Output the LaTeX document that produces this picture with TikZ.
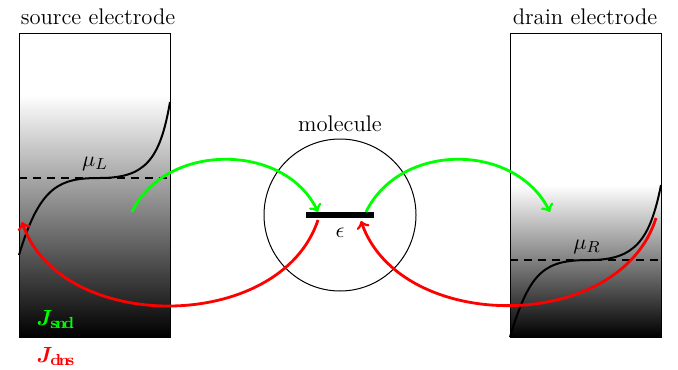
\documentclass[tikz,border=0pt]{standalone}
\usepackage{amsmath,bm}
\begin{document}
\begin{tikzpicture}[x=0.5pt,y=-0.5pt,
  every node/.style={font=\fontsize{11.3}{13.6}\selectfont},
  lbl/.style={inner sep=0pt,anchor=base},
  curve/.style={line width=1pt},
  gflow/.style={green,line width=1.4pt,->},
  rflow/.style={red,line width=1.4pt,->},
  lev/.style={line width=0.6pt,dash pattern=on 4pt off 3pt}]
\useasboundingbox (0,0) rectangle (678,369);
% source electrode
\shade[top color=white,bottom color=black] (19,95) rectangle (170,337);
\draw[line width=0.5pt] (19,34) rectangle (170,337);
\node[lbl] (src) at (98,25) {source electrode};
\draw[lev] (19,178) -- (170,178);
\draw[curve] (19,255) .. controls (40,185) and (60,178) .. (100,178)
  .. controls (145,178) and (160,160) .. (170,102);
\node[lbl] (muL) at (95,166) {$\mu_L$};
% drain electrode
\shade[top color=white,bottom color=black] (510,185) rectangle (661,337);
\draw[line width=0.5pt] (510,34) rectangle (661,337);
\node[lbl] (drn) at (585,25) {drain electrode};
\draw[lev] (510,260) -- (661,260);
\draw[curve] (510,337) .. controls (530,270) and (545,260) .. (590,260)
  .. controls (635,260) and (650,240) .. (661,185);
\node[lbl] (muR) at (587,249) {$\mu_R$};
% molecule
\node[draw,circle,minimum size=76pt,inner sep=0pt,line width=0.5pt] (mol) at (340,215) {};
\node[lbl] (molname) at (340,131) {molecule};
\coordinate (barL) at (306,215);
\coordinate (barR) at (374,215);
\draw[line width=2.6pt] (barL) -- (barR);
\node[lbl] (eps) at (340,237) {$\epsilon$};
% flows
\coordinate (g1s) at (132,212);
\coordinate (g1e) at (318,212);
\coordinate (g2s) at (366,212);
\coordinate (g2e) at (550,212);
\coordinate (r1s) at (318,220);
\coordinate (r1e) at (22,222);
\coordinate (r2s) at (656,218);
\coordinate (r2e) at (361,221);
\draw[gflow] (g1s) .. controls (165,142) and (285,142) .. (g1e);
\draw[gflow] (g2s) .. controls (400,142) and (515,142) .. (g2e);
\draw[rflow] (r1s) .. controls (280,334) and (60,334) .. (r1e);
\draw[rflow] (r2s) .. controls (620,334) and (400,334) .. (r2e);
% labels
\node[lbl,green] (Jsd) at (56,325) {$\bm{J}_{\mathbf{s\!n\!d}}$};
\node[lbl,red] (Jds) at (56,362) {$\bm{J}_{\mathbf{d\!n\!s}}$};
\end{tikzpicture}
\end{document}
